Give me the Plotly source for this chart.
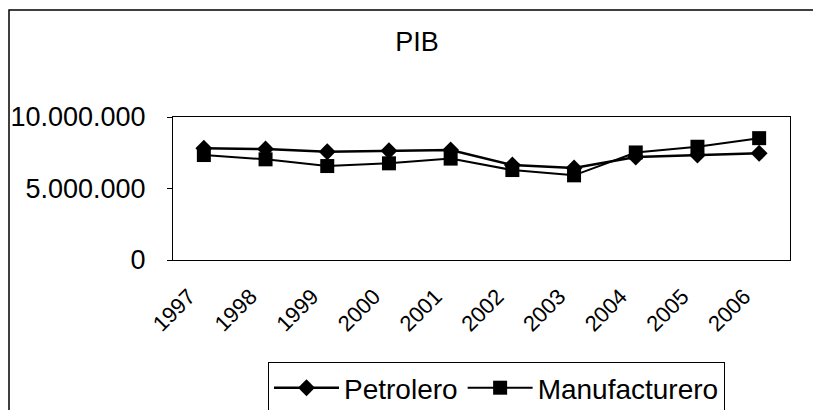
import plotly.graph_objects as go

years = ["1997", "1998", "1999", "2000", "2001", "2002", "2003", "2004", "2005", "2006"]
petrolero = [7810000, 7760000, 7570000, 7640000, 7690000, 6640000, 6430000, 7200000, 7340000, 7460000]
manufacturero = [7340000, 7040000, 6570000, 6760000, 7090000, 6290000, 5920000, 7520000, 7920000, 8520000]
y_tickvals = [0, 5000000, 10000000]
y_ticktext = ["0", "5.000.000", "10.000.000"]

FONT = "Liberation Sans, Arial, sans-serif"

fig = go.Figure()
fig.add_trace(go.Scatter(
    x=years, y=petrolero, name="Petrolero", mode="lines+markers",
    line=dict(color="black", width=2.5),
    marker=dict(symbol="diamond", size=13, color="black"),
))
fig.add_trace(go.Scatter(
    x=years, y=manufacturero, name="Manufacturero", mode="lines+markers",
    line=dict(color="black", width=2),
    marker=dict(symbol="square", size=14, color="black"),
))

# page has an 8px body margin; figure coordinates = page - 8
OFF = 8
W, H = 821 - OFF, 410 - OFF
L = 173 - OFF
T = 117 - OFF
R = W - (790 - OFF)
B = H - (260 - OFF)
pw = W - L - R
ph = H - T - B

def px_x(page_x):
    return (page_x - OFF - L) / pw

def px_y(page_y):
    return (H - B - (page_y - OFF)) / ph

fig.update_layout(
    template="none",
    width=W, height=H,
    margin=dict(l=L, r=R, t=T, b=B, pad=0, autoexpand=False),
    paper_bgcolor="white", plot_bgcolor="white",
    font=dict(family=FONT, color="black"),
    title=dict(text="PIB", x=(417 - OFF) / W, xanchor="center",
               y=1 - (42 - OFF) / H, yanchor="middle",
               xref="container", yref="container",
               font=dict(family=FONT, size=27, color="black")),
    showlegend=True,
    legend=dict(orientation="h", x=px_x(268), xanchor="left",
                y=px_y(362), yanchor="top",
                bordercolor="black", borderwidth=1, bgcolor="white",
                font=dict(family=FONT, size=28, color="black"),
                itemwidth=65, tracegroupgap=0),
    xaxis=dict(type="category", range=[-0.5, 9.5], showline=True, mirror=True,
               linecolor="black", linewidth=1, showgrid=False, zeroline=False,
               automargin=False,
               tickangle=-45, ticks="", tickfont=dict(family=FONT, size=22, color="black"),
               ticklabelstandoff=14, ticklabelshift=-15),
    yaxis=dict(range=[0, 10000000], showline=True, mirror=True, linecolor="black",
               linewidth=1, showgrid=False, zeroline=False, automargin=False,
               tickvals=y_tickvals, ticktext=y_ticktext, ticks="outside", ticklen=5,
               tickcolor="black", tickfont=dict(family=FONT, size=27, color="black"),
               ticklabelstandoff=16),
    shapes=[dict(type="rect", xref="paper", yref="paper",
                 x0=px_x(OFF + 1), x1=px_x(W + 40),
                 y0=px_y(H + 40), y1=px_y(10),
                 line=dict(color="black", width=1.5), fillcolor="rgba(0,0,0,0)",
                 layer="below")],
)

fig.write_html("out.html")
